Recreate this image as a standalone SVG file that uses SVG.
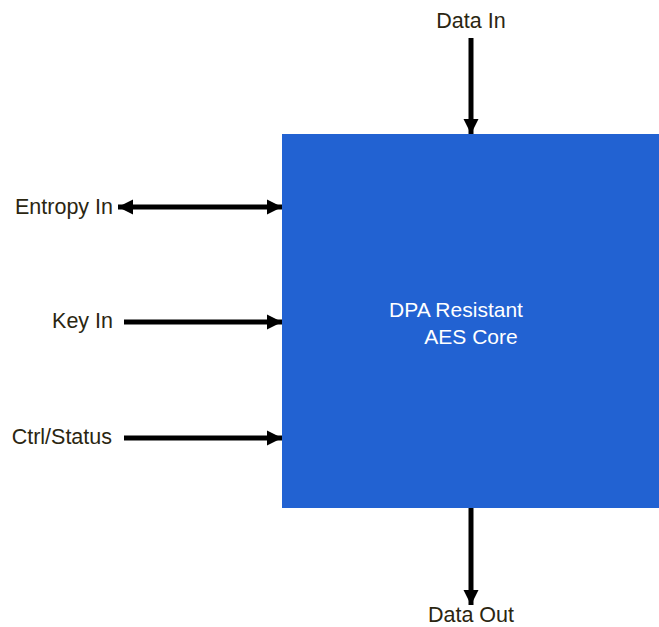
<svg xmlns="http://www.w3.org/2000/svg" width="659" height="627" viewBox="0 0 659 627">
  <style>
    .lbl { font-family: "Liberation Sans", Arial, sans-serif; font-size: 21.5px; fill: #2b2611; }
    .core { font-family: "Liberation Sans", Arial, sans-serif; font-size: 21px; fill: #ffffff; text-anchor: middle; }
    .wire { stroke: #000000; stroke-width: 5; fill: none; }
  </style>
  <defs>
    <marker id="head" viewBox="0 0 10 10" refX="10" refY="5" markerWidth="3" markerHeight="3.2" orient="auto-start-reverse" markerUnits="strokeWidth">
      <path d="M0,0 L10,5 L0,10 Z" fill="#000000"/>
    </marker>
  </defs>
  <rect width="659" height="627" fill="#ffffff"/>

  <g id="aes-core">
    <rect x="282" y="134" width="377" height="374" fill="#2262d2"/>
    <text class="core" x="456" y="317">DPA Resistant</text>
    <text class="core" x="471" y="344">AES Core</text>
  </g>

  <g id="data-in">
    <text class="lbl" x="471" y="28" text-anchor="middle">Data In</text>
  </g>
  <g id="entropy-in">
    <text class="lbl" x="113" y="214" text-anchor="end">Entropy In</text>
  </g>
  <g id="key-in">
    <text class="lbl" x="113" y="328" text-anchor="end">Key In</text>
  </g>
  <g id="ctrl-status">
    <text class="lbl" x="112" y="444" text-anchor="end">Ctrl/Status</text>
  </g>
  <g id="data-out">
    <text class="lbl" x="471" y="622" text-anchor="middle">Data Out</text>
  </g>

  <g id="connectors">
    <line class="wire" x1="471" y1="38" x2="471" y2="134" marker-end="url(#head)"/>
    <line class="wire" x1="118" y1="207" x2="282" y2="207" marker-start="url(#head)" marker-end="url(#head)"/>
    <line class="wire" x1="124" y1="322" x2="282" y2="322" marker-end="url(#head)"/>
    <line class="wire" x1="124" y1="438" x2="282" y2="438" marker-end="url(#head)"/>
    <line class="wire" x1="471" y1="508" x2="471" y2="605" marker-end="url(#head)"/>
  </g>
</svg>
